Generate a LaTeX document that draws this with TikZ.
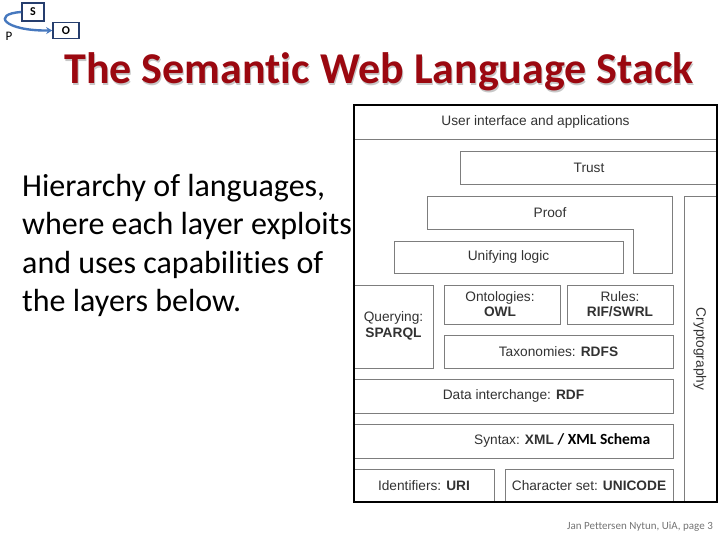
\documentclass[tikz,border=0pt]{standalone}
\usepackage{fontspec}
\setmainfont{Carlito}[RawFeature={-liga}]
\newfontfamily\arialfont{Liberation Sans}
\usetikzlibrary{arrows.meta}
\definecolor{titlered}{RGB}{155,8,16}
\definecolor{logonavy}{RGB}{38,62,110}
\definecolor{logoblue}{RGB}{70,120,190}
\definecolor{layergray}{RGB}{125,125,125}
\definecolor{layertext}{RGB}{50,50,50}
\tikzset{
  layer/.style={draw=layergray,line width=0.9pt},
  lbl/.style={font=\arialfont\fontsize{13.7}{15.5}\selectfont,text=layertext,inner sep=0pt,align=center},
  logobox/.style={draw=logonavy,line width=1.6pt,fill=white,inner sep=0pt,font=\fontsize{12}{13}\selectfont\bfseries}
}
\begin{document}
\begin{tikzpicture}[x=1pt,y=-1pt]
\useasboundingbox (0,0) rectangle (720,540);
% logo
\node[logobox,minimum width=22pt,minimum height=18pt] (s) at (33,12) {S};
\node[logobox,minimum width=26pt,minimum height=16pt] (o) at (66,30.5) {O};
\draw[logoblue,line width=2.4pt,-{Stealth[length=6pt,width=7pt]}] (s.west) .. controls (-9,14) and (4,31) .. (o.west);
\node[font=\fontsize{13}{14}\selectfont,inner sep=0pt] (p) at (9,36) {P};
% title with shadow
\node[font=\fontsize{44}{48}\selectfont\bfseries,text=black!22] (titleshadow) at (380,73.5) {The Semantic Web Language Stack};
\node[font=\fontsize{44}{48}\selectfont\bfseries,text=titlered] (title) at (379,72) {The Semantic Web Language Stack};
% left text
\node[font=\fontsize{32}{38.5}\selectfont,align=left,anchor=north west,inner sep=0pt] (intro) at (22,174)
  {Hierarchy of languages,\\where each layer exploits\\and uses capabilities of\\the layers below.};
% stack of layers
\draw[layer] (354,105) rectangle (717,139);
\draw[layer] (460,151) rectangle (717,184);
\draw[layer] (427,196) -- (672,196) -- (672,273) -- (633,273) -- (633,229) -- (427,229) -- cycle;
\draw[layer] (684,196) rectangle (717,502);
\draw[layer] (394,241) rectangle (623,273);
\draw[layer] (354,285) rectangle (433,368);
\draw[layer] (444,285) rectangle (560,324);
\draw[layer] (567,285) rectangle (673,324);
\draw[layer] (444,335) rectangle (673,368);
\draw[layer] (354,379) rectangle (673,413);
\draw[layer] (354,424) rectangle (673,458);
\draw[layer] (354,469) rectangle (494,502);
\draw[layer] (505,469) rectangle (673,502);
\draw[black,line width=1.3pt] (354,105) rectangle (717,502);
\node[lbl] (ui) at (535.5,122) {User interface and applications};
\node[lbl] (trust) at (589,167.5) {Trust};
\node[lbl] (proof) at (550,212.5) {Proof};
\node[lbl] (logic) at (508.5,257) {Unifying logic};
\node[lbl] (query) at (393.5,326) {Querying:\\\textbf{SPARQL}};
\node[lbl] (onto) at (500,304) {Ontologies:\\\textbf{OWL}};
\node[lbl] (rules) at (620,304) {Rules:\\\textbf{RIF/SWRL}};
\node[lbl] (rdfs) at (558.5,351.5) {Taxonomies: \textbf{RDFS}};
\node[lbl,rotate=-90] (crypto) at (700,349) {Cryptography};
\node[lbl] (rdf) at (513.5,396) {Data interchange: \textbf{RDF}};
\node[lbl,anchor=west] (xml) at (474,440.5) {Syntax: \textbf{XML} {\normalfont\fontsize{15.5}{17}\selectfont\bfseries\color{black}/ XML Schema}};
\node[lbl] (uri) at (424,485.5) {Identifiers: \textbf{URI}};
\node[lbl] (unicode) at (589,485.5) {Character set: \textbf{UNICODE}};
% footer
\node[font=\fontsize{11}{12}\selectfont,text=black!55,anchor=east,inner sep=0pt] (footer) at (713,527) {Jan Pettersen Nytun, UiA, page 3};
\end{tikzpicture}
\end{document}
